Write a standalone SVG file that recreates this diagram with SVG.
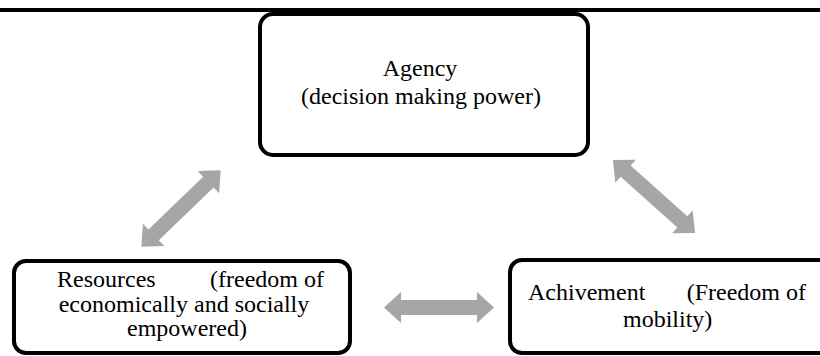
<svg xmlns="http://www.w3.org/2000/svg" width="820" height="356" viewBox="0 0 820 356">
  <style>
    .box { fill: #ffffff; stroke: #000000; stroke-width: 4; }
    .arr { fill: #a6a6a6; stroke: none; }
    .lbl { font-family: "Liberation Serif", "DejaVu Serif", serif; font-size: 24px; fill: #000000; }
  </style>
  <defs>
    <polygon id="dbl" points="-55,0 -38,-15.5 -38,-7.5 38,-7.5 38,-15.5 55,0 38,15.5 38,7.5 -38,7.5 -38,15.5"/>
  </defs>
  <rect x="0" y="0" width="820" height="356" fill="#ffffff"/>
  <rect x="0" y="8" width="820" height="4" fill="#000000"/>

  <g id="connectors" class="arr">
    <use href="#dbl" transform="translate(181,208.5) rotate(-43.9)"/>
    <use href="#dbl" transform="translate(654,196.5) rotate(41.7)"/>
    <use href="#dbl" transform="translate(439,307.5)"/>
  </g>

  <g id="agency">
    <rect class="box" x="260" y="14" width="328" height="141" rx="13" ry="13"/>
    <text class="lbl">
      <tspan x="423" y="76" text-anchor="middle">Agency</tspan>
      <tspan x="301" y="104">(decision making power)</tspan>
    </text>
  </g>

  <g id="resources">
    <rect class="box" x="14" y="261" width="336" height="92" rx="12" ry="12"/>
    <text class="lbl">
      <tspan x="57" y="287">Resources</tspan>
      <tspan x="330" y="287" text-anchor="end">(freedom of</tspan>
      <tspan x="187" y="312" text-anchor="middle">economically and socially</tspan>
      <tspan x="187" y="336" text-anchor="middle">empowered)</tspan>
    </text>
  </g>

  <g id="achievement">
    <rect class="box" x="510" y="260" width="330" height="93" rx="12" ry="12"/>
    <text class="lbl">
      <tspan x="528" y="300">Achivement</tspan>
      <tspan x="812" y="300" text-anchor="end">(Freedom of</tspan>
      <tspan x="623" y="327">mobility)</tspan>
    </text>
  </g>
</svg>
